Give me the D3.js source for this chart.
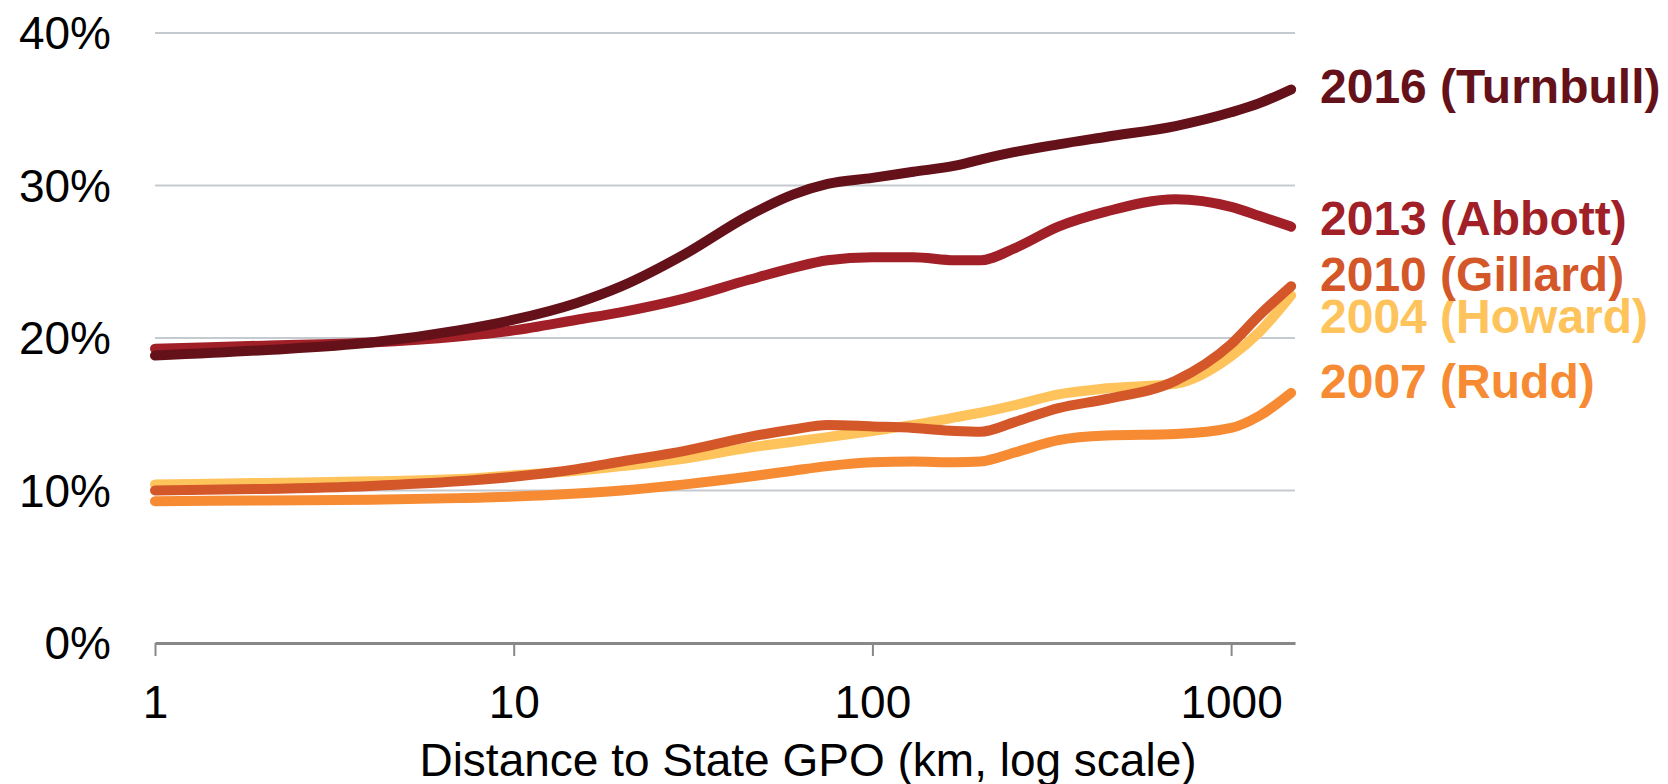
<!DOCTYPE html>
<html>
<head>
<meta charset="utf-8">
<script src="https://cdn.jsdelivr.net/npm/d3@7"></script>
<style>
  html, body { margin: 0; padding: 0; background: #fff; }
  svg { display: block; font-family: "Liberation Sans", Arial, Helvetica, sans-serif; }
</style>
</head>
<body>
<svg id="chart" width="1668" height="784"></svg>
<script>
// ---- data ----
const distances = [1, 2, 4, 7, 10, 15, 20, 30, 45, 60, 75, 100, 130, 170, 200, 250, 330, 450, 700, 1000, 1200, 1470];
const howard2004   = [10.4, 10.5, 10.6, 10.75, 11.0, 11.3, 11.6, 12.1, 12.8, 13.2, 13.5, 13.9, 14.3, 14.8, 15.1, 15.6, 16.3, 16.7, 17.0, 18.8, 20.4, 22.8];
const rudd2007     = [9.3, 9.35, 9.4, 9.5, 9.6, 9.8, 10.0, 10.4, 10.9, 11.3, 11.6, 11.85, 11.9, 11.85, 11.9, 12.5, 13.3, 13.6, 13.7, 14.1, 14.9, 16.4];
const gillard2010  = [10.0, 10.1, 10.3, 10.6, 10.9, 11.4, 11.9, 12.6, 13.5, 14.0, 14.3, 14.2, 14.1, 13.9, 13.85, 14.5, 15.4, 16.0, 17.2, 19.6, 21.5, 23.4];
const abbott2013   = [19.3, 19.5, 19.7, 20.1, 20.5, 21.2, 21.7, 22.6, 23.8, 24.6, 25.1, 25.3, 25.3, 25.1, 25.1, 25.9, 27.3, 28.3, 29.1, 28.6, 28.0, 27.3];
const turnbull2016 = [18.85, 19.2, 19.7, 20.5, 21.2, 22.3, 23.4, 25.5, 28.0, 29.4, 30.1, 30.5, 30.9, 31.3, 31.7, 32.2, 32.7, 33.2, 33.9, 34.8, 35.4, 36.3];
const seriesNames  = ["2004 (Howard)", "2007 (Rudd)", "2010 (Gillard)", "2013 (Abbott)", "2016 (Turnbull)"];
const seriesValues = [howard2004, rudd2007, gillard2010, abbott2013, turnbull2016];
const yTicks = [0, 10, 20, 30, 40];
const xTicks = [1, 10, 100, 1000];
const xTitle = "Distance to State GPO (km, log scale)";

// ---- styles / layout ----
const colors = ["#FEC35B", "#F68B33", "#D4572A", "#A11F27", "#65111A"];
const labelY = [316, 381, 274, 218, 86];
const M = { left: 155, right: 1295, top: 33, bottom: 643 };

const svg = d3.select("#chart");
const x = d3.scaleLog().domain([1, 1507]).range([M.left, M.right]);
const y = d3.scaleLinear().domain([0, 40]).range([M.bottom, M.top]);

// gridlines
svg.append("g").selectAll("line")
  .data(yTicks.filter(t => t > 0))
  .join("line")
  .attr("x1", M.left).attr("x2", M.right)
  .attr("y1", d => y(d)).attr("y2", d => y(d))
  .attr("stroke", "#C5CAD0").attr("stroke-width", 2);

// y labels
const yAxis = d3.axisLeft(y).tickValues(yTicks).tickFormat(d => d + "%").tickSize(0).tickPadding(0);
const gy = svg.append("g").attr("transform", `translate(${111},0)`).call(yAxis);
gy.select(".domain").remove();
gy.selectAll("text").attr("font-size", 46).attr("fill", "#000")
  .attr("font-family", "'Liberation Sans', Arial, sans-serif").attr("dy", "0.34em");

// x axis
const xAxis = d3.axisBottom(x).tickValues(xTicks).tickFormat(d3.format("d")).tickSizeInner(13).tickSizeOuter(0).tickPadding(29);
const gx = svg.append("g").attr("transform", `translate(0,${M.bottom})`).call(xAxis);
gx.select(".domain").attr("stroke", "#888").attr("stroke-width", 3);
gx.selectAll(".tick line").attr("stroke", "#888").attr("stroke-width", 2);
gx.selectAll("text").attr("font-size", 46).attr("fill", "#000")
  .attr("font-family", "'Liberation Sans', Arial, sans-serif");

svg.append("text").attr("x", 808).attr("y", 776)
  .attr("text-anchor", "middle").attr("font-size", 46).attr("fill", "#000")
  .text(xTitle);

// lines
const line = d3.line().x(d => x(d[0])).y(d => y(d[1])).curve(d3.curveMonotoneX);
seriesValues.forEach((vals, i) => {
  svg.append("path")
    .datum(distances.map((dd, j) => [dd, vals[j]]))
    .attr("d", line)
    .attr("fill", "none")
    .attr("stroke", colors[i])
    .attr("stroke-width", 10)
    .attr("stroke-linecap", "round")
    .attr("stroke-linejoin", "round");
});

// labels
svg.append("g").selectAll("text")
  .data(seriesNames)
  .join("text")
  .attr("x", 1320)
  .attr("y", (d, i) => labelY[i])
  .attr("dy", "0.36em")
  .attr("font-size", 48)
  .attr("font-weight", "bold")
  .attr("fill", (d, i) => colors[i])
  .text(d => d);
</script>
</body>
</html>
